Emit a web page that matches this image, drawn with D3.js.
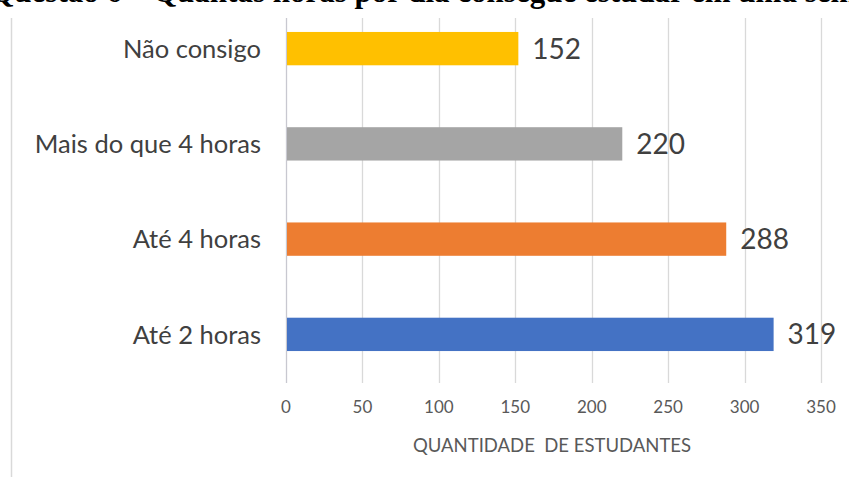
<!DOCTYPE html>
<html>
<head>
<meta charset="utf-8">
<script src="https://cdn.jsdelivr.net/npm/d3@7"></script>
<style>
  body { margin: 0; background: #fff; }
  svg { display: block; }
</style>
</head>
<body>
<div id="chart-area"></div>
<script>
// data
const categories = ["Não consigo", "Mais do que 4 horas", "Até 4 horas", "Até 2 horas"]
const values = [152, 220, 288, 319]
const colors = ["#FFC000", "#A5A5A5", "#ED7D31", "#4472C4"]
const ticks = [0, 50, 100, 150, 200, 250, 300, 350]
const titlePrefix = "Questão 6 – "
const titleText = "Quantas horas por dia consegue estudar em uma semana"
const axisTitle = "QUANTIDADE  DE ESTUDANTES"

const width = 849, height = 477

const svg = d3.select("#chart-area").append("svg").attr("width", width).attr("height", height)

const x = d3.scaleLinear().domain([0, 350]).range([286, 821])
const y = d3.scaleBand().domain(categories).range([1, 382]).paddingInner(0.65).paddingOuter(0.325)

// left frame line
svg.append("line")
   .attr("x1", 11.5).attr("x2", 11.5)
   .attr("y1", 18).attr("y2", height)
   .attr("stroke", "#d9d9d9").attr("stroke-width", 1.5)

// gridlines
svg.selectAll(".grid").data(ticks).enter()
   .append("line")
   .attr("class", "grid")
   .attr("x1", d => Math.round(x(d)) + 0.5)
   .attr("x2", d => Math.round(x(d)) + 0.5)
   .attr("y1", 18)
   .attr("y2", 383)
   .attr("stroke", d => d === 0 ? "#c8c8d0" : "#d9d9d9")
   .attr("stroke-width", 1.3)

// bars
svg.selectAll("rect.bar").data(values).enter()
   .append("rect")
   .attr("class", "bar")
   .attr("x", x(0) + 1)
   .attr("y", (d, i) => y(categories[i]))
   .attr("width", d => x(d) - x(0) - 1)
   .attr("height", y.bandwidth())
   .attr("fill", (d, i) => colors[i])

// value labels
svg.selectAll("text.val").data(values).enter()
   .append("text")
   .attr("class", "val")
   .attr("x", d => x(d) + 14)
   .attr("y", (d, i) => y(categories[i]) + y.bandwidth() / 2)
   .attr("dy", "0.36em")
   .attr("font-family", "Lato, 'Open Sans', sans-serif")
   .attr("font-size", 28)
   .attr("fill", "#404040")
   .text(d => d)

// category labels
svg.selectAll("text.cat").data(categories).enter()
   .append("text")
   .attr("class", "cat")
   .attr("x", 261)
   .attr("y", d => y(d) + y.bandwidth() / 2)
   .attr("dy", "0.36em")
   .attr("text-anchor", "end")
   .attr("font-family", "Lato, 'Open Sans', sans-serif")
   .attr("font-size", 25.5)
   .attr("fill", "#404040")
   .text(d => d)

// tick labels
svg.selectAll("text.tick").data(ticks).enter()
   .append("text")
   .attr("class", "tick")
   .attr("x", d => x(d))
   .attr("y", 407)
   .attr("dy", "0.36em")
   .attr("text-anchor", "middle")
   .attr("font-family", "Lato, 'Open Sans', sans-serif")
   .attr("font-size", 17)
   .attr("fill", "#595959")
   .text(d => d)

// axis title
svg.append("text")
   .attr("x", 552)
   .attr("y", 445)
   .attr("dy", "0.36em")
   .attr("text-anchor", "middle")
   .attr("font-family", "Lato, 'Open Sans', sans-serif")
   .attr("font-size", 18.5)
   .attr("fill", "#595959")
   .style("white-space", "pre")
   .text(axisTitle)

// title, cut off at the top like in the scan
const title = svg.append("text")
   .attr("y", 2)
   .attr("font-family", "'Liberation Serif', 'DejaVu Serif', serif")
   .attr("font-weight", "bold")
   .attr("font-size", 31)
   .attr("fill", "#000")
   .style("white-space", "pre")
const pre = title.append("tspan").text(titlePrefix)
title.append("tspan").text(titleText)
// place "Quantas" where it sits in the picture
title.attr("x", 153 - pre.node().getComputedTextLength())
</script>
</body>
</html>
